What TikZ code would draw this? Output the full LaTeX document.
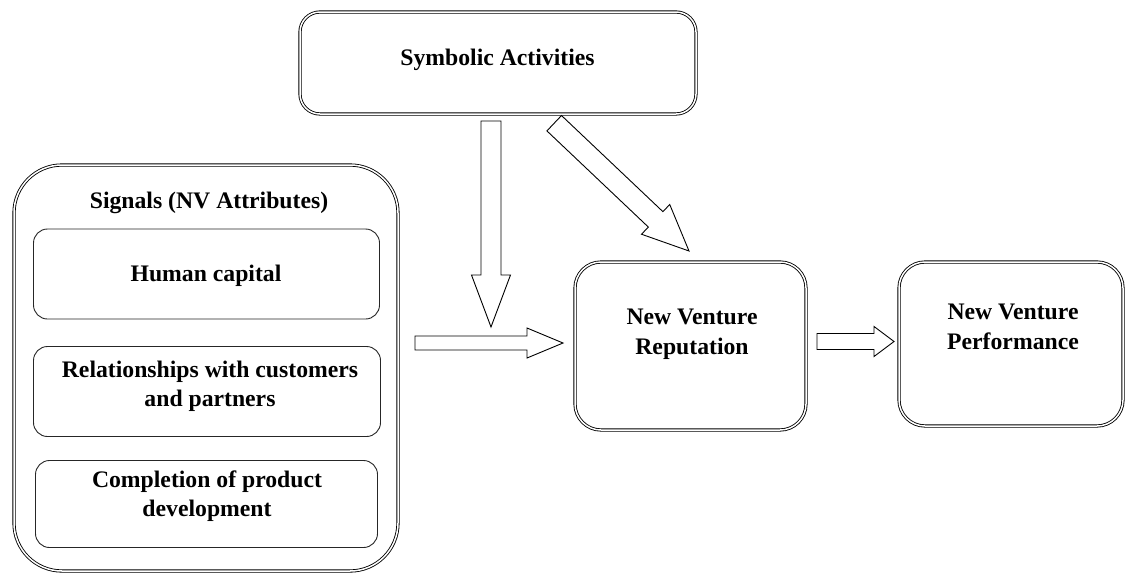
\documentclass[tikz,border=0pt]{standalone}
\usepackage{fontspec}
\setmainfont{Liberation Serif}
\usetikzlibrary{calc}
\tikzset{
  dbox/.style={draw, double, double distance=1.5pt, line width=0.85pt, rounded corners=#1, inner sep=0pt},
  sbox/.style={draw=black!85, line width=0.9pt, rounded corners=14pt, inner sep=0pt},
  lbl/.style={font=\fontsize{23.7}{29.5}\selectfont\bfseries, align=center, inner sep=0pt, anchor=base},
  blockarrow/.style={draw, line width=0.9pt, fill=white, line join=miter},
}
\newcommand\blockarrow[5]{%
  \coordinate (ba-h) at ($(#2)!#5!(#1)$);
  \draw[blockarrow] ($(#1)!#3!90:(#2)$) -- ($(ba-h)!#3!90:(#2)$) -- ($(ba-h)!#4!90:(#2)$)
    -- (#2) -- ($(ba-h)!#4!-90:(#2)$) -- ($(ba-h)!#3!-90:(#2)$) -- ($(#1)!#3!-90:(#2)$) -- cycle;
}
\begin{document}
\begin{tikzpicture}[x=1pt,y=-1pt]
\path[fill=white,use as bounding box] (0,0) rectangle (1126,574);
% boxes
\node[dbox=20pt, minimum width=396pt, minimum height=102pt] (sym) at (498,63) {};
\node[dbox=48pt, minimum width=384pt, minimum height=406pt] (sig) at (206,368) {};
\node[sbox, minimum width=346pt, minimum height=90pt] (hum) at (206.5,274) {};
\node[sbox, minimum width=347pt, minimum height=90pt] (rel) at (207,391.5) {};
\node[sbox, minimum width=342pt, minimum height=87pt] (comp) at (206.5,504) {};
\node[dbox=26pt, minimum width=231pt, minimum height=168pt] (rep) at (690.5,346) {};
\node[dbox=26pt, minimum width=224pt, minimum height=164pt] (perf) at (1011,344) {};
% labels (anchor=base is the baseline of the last line)
\node[lbl] (tsym) at (497.5,65.7) {Symbolic Activities};
\node[lbl] (tsig) at (209,208) {Signals (NV Attributes)};
\node[lbl] (thum) at (206,281.7) {Human capital};
\node[lbl] (trel) at (210,406.5) {Relationships with customers\\and partners};
\node[lbl] (tcomp) at (207,516.5) {Completion of product\\development};
\node[lbl] (trep) at (692,354) {New Venture\\Reputation};
\node[lbl] (tperf) at (1013,349) {New Venture\\Performance};
% arrow end points
\coordinate (v1) at (491,121);
\coordinate (v2) at (491,327);
\coordinate (d1) at (554.2,123.2);
\coordinate (d2) at (689,251);
\coordinate (h1) at (415,343);
\coordinate (h2) at (563,343);
\coordinate (p1) at (817,341.5);
\coordinate (p2) at (894,341.5);
\blockarrow{v1}{v2}{10pt}{19.5pt}{52pt}
\blockarrow{d1}{d2}{10.6pt}{20.5pt}{46pt}
\blockarrow{h1}{h2}{7pt}{15pt}{36pt}
\blockarrow{p1}{p2}{8pt}{15pt}{20pt}
\end{tikzpicture}
\end{document}
